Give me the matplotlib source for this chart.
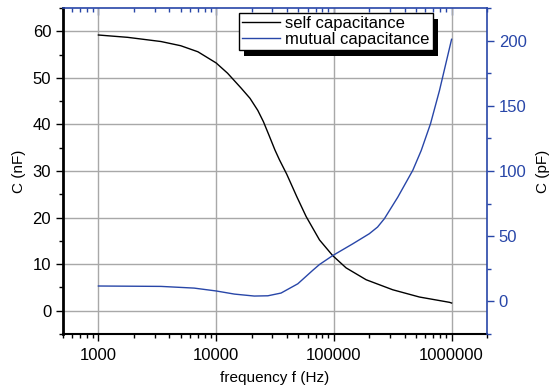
import matplotlib
matplotlib.use("Agg")
import matplotlib.pyplot as plt
from matplotlib.patches import Rectangle
from matplotlib.ticker import FixedLocator, LogLocator, MultipleLocator, FuncFormatter, NullFormatter

plt.rcParams['font.family'] = ['Liberation Sans', 'DejaVu Sans']

# self capacitance: frequenza (Hz) e valori (nF)
f_self = [1000, 1770, 3400, 5000, 7000, 10000, 12500, 16300, 19400, 22600,
          25200, 28200, 31600, 34500, 39800, 44800, 48400, 58200, 75500,
          98000, 127000, 188000, 316000, 533000, 960000, 1000000]
self_cap = [59.2, 58.7, 57.8, 56.9, 55.6, 53.2, 51.0, 47.8, 45.6, 43.0,
            40.6, 37.6, 34.5, 32.4, 29.3, 26.4, 24.5, 20.2, 15.2,
            11.8, 9.2, 6.65, 4.5, 2.94, 1.8, 1.65]

# mutual capacitance: frequenza (Hz) e valori (pF)
f_mut = [1000, 3400, 6500, 10000, 14300, 21100, 27500, 35600, 49400, 66100,
         75500, 98000, 145000, 200000, 235000, 269000, 349000, 468000, 552000,
         662000, 789000, 1000000]
mutual_cap = [11.8, 11.5, 10.2, 8.0, 5.6, 4.1, 4.3, 6.4, 13.5, 23.8,
              28.3, 35.2, 44.2, 51.9, 57.0, 63.5, 79.9, 100.5, 115.7,
              136.2, 161.7, 201.0]

x_ticks = [1000, 10000, 100000, 1000000]

blue = '#2846a8'

fig = plt.figure(figsize=(5.5, 3.9), dpi=100)
ax = fig.add_axes([0.1145, 0.1436, 0.771, 0.8359])
ax2 = ax.twinx()

l1, = ax.plot(f_self, self_cap, color='black', lw=1.0, label='self capacitance')
l2, = ax2.plot(f_mut, mutual_cap, color=blue, lw=1.0, label='mutual capacitance')

ax.set_xscale('log')
ax.set_xlim(500, 2e6)
ax.set_ylim(-5, 65)
ax2.set_ylim(-25, 225)

ax.xaxis.set_major_locator(FixedLocator(x_ticks))
ax.xaxis.set_minor_locator(LogLocator(base=10, subs=range(2, 10)))
ax.xaxis.set_major_formatter(FuncFormatter(lambda v, p: '%d' % v))
ax.xaxis.set_minor_formatter(NullFormatter())
ax.yaxis.set_major_locator(MultipleLocator(10))
ax.yaxis.set_minor_locator(MultipleLocator(5))
ax2.yaxis.set_major_locator(MultipleLocator(50))
ax2.yaxis.set_minor_locator(MultipleLocator(25))

ax.grid(True, which='major', color='#a8a8a8', lw=1.0)
ax.set_axisbelow(True)

# assi
ax.spines['left'].set_linewidth(2.0)
ax.spines['bottom'].set_linewidth(1.5)
ax2.spines['left'].set_visible(False)
ax2.spines['bottom'].set_visible(False)
ax.spines['top'].set_visible(False)
ax.spines['right'].set_visible(False)
ax2.spines['right'].set_color(blue)
ax2.spines['right'].set_linewidth(1.2)
ax2.spines['top'].set_color(blue)
ax2.spines['top'].set_linewidth(1.2)

ax.tick_params(axis='both', which='major', direction='out', length=5, width=1, labelsize=12)
ax.tick_params(axis='both', which='minor', direction='out', length=3, width=1)
ax.tick_params(axis='x', which='major', pad=5)
ax.tick_params(axis='x', top=False)
ax2.tick_params(axis='y', which='major', direction='out', length=5, width=1,
                colors=blue, labelsize=12)
ax2.tick_params(axis='y', which='minor', direction='out', length=3, width=1, colors=blue)

# tick in alto (blu, verso l'interno)
axt = ax.secondary_xaxis('top')
axt.xaxis.set_major_locator(FixedLocator(x_ticks))
axt.xaxis.set_minor_locator(LogLocator(base=10, subs=range(2, 10)))
axt.xaxis.set_major_formatter(NullFormatter())
axt.xaxis.set_minor_formatter(NullFormatter())
axt.spines['top'].set_visible(False)
axt.tick_params(which='major', direction='in', length=5, width=1, color=blue)
axt.tick_params(which='minor', direction='in', length=3, width=1, color=blue)

ax.set_xlabel('frequency f (Hz)', fontsize=11, labelpad=6)
ax.set_ylabel('C (nF)', fontsize=11, labelpad=5)
ax2.set_ylabel('C (pF)', fontsize=11, labelpad=7)

leg = ax2.legend(handles=[l1, l2], loc='upper right', bbox_to_anchor=(0.873, 0.985),
                 fontsize=12, frameon=True, fancybox=False, edgecolor='black',
                 framealpha=1, borderaxespad=0, borderpad=0.2, handlelength=2.3,
                 handletextpad=0.3, labelspacing=0.05)
leg.get_frame().set_linewidth(1.0)
leg.set_zorder(6)

# ombra nera della legenda
fig.canvas.draw()
bb = leg.get_window_extent(fig.canvas.get_renderer())
inv = ax2.transAxes.inverted()
(x0, y0), (x1, y1) = inv.transform([[bb.x0 + 5, bb.y0 - 6], [bb.x1 + 5, bb.y1 - 6]])
ax2.add_patch(Rectangle((x0, y0), x1 - x0, y1 - y0, transform=ax2.transAxes,
                        facecolor='black', edgecolor='none', clip_on=False, zorder=5.5))

fig.savefig('out.png', dpi=100)
